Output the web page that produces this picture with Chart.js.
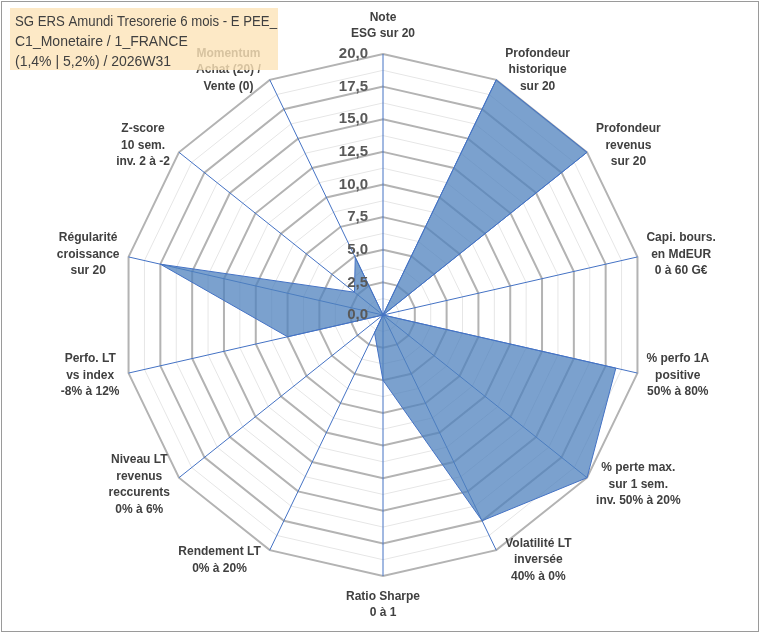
<!DOCTYPE html>
<html>
<head>
<meta charset="utf-8">
<script src="https://cdn.jsdelivr.net/npm/chart.js@4.4.1/dist/chart.umd.min.js"></script>
<style>
    html, body { margin: 0; padding: 0; background: #fff; }
    #wrap { width: 760px; height: 633px; position: relative; }
</style>
</head>
<body>
<div id="wrap"><canvas id="radarChart"></canvas></div>
<script>
// Axis labels (one array per label = one line per entry)
const axisLabels = [
    ['Note', 'ESG sur 20'],
    ['Profondeur', 'historique', 'sur 20'],
    ['Profondeur', 'revenus', 'sur 20'],
    ['Capi. bours.', 'en MdEUR', '0 à 60 G€'],
    ['% perfo 1A', 'positive', '50% à 80%'],
    ['% perte max.', 'sur 1 sem.', 'inv. 50% à 20%'],
    ['Volatilité LT', 'inversée', '40% à 0%'],
    ['Ratio Sharpe', '0 à 1'],
    ['Rendement LT', '0% à 20%'],
    ['Niveau LT', 'revenus', 'reccurents', '0% à 6%'],
    ['Perfo. LT', 'vs index', '-8% à 12%'],
    ['Régularité', 'croissance', 'sur 20'],
    ['Z-score', '10 sem.', 'inv. 2 à -2'],
    ['Momentum', 'Achat (20) /', 'Vente (0)']
];

// Scores (0 to 20)
const scores = [0, 20, 20, 0, 18.3, 20, 17.5, 5, 1.5, 0, 7.5, 17.5, 2.8, 4.9];

// Ring labels shown next to the vertical axis
const tickValues = [0, 2.5, 5, 7.5, 10, 12.5, 15, 17.5, 20];

// Title box text
const titleLines = [
    'SG ERS Amundi Tresorerie 6 mois - E PEE_',
    'C1_Monetaire / 1_FRANCE',
    '(1,4% | 5,2%) / 2026W31'
];

const FONT = '"Liberation Sans", Arial, sans-serif';
const LABEL_LINE = 16.5;

function isMajor(v) {
    return Math.abs(v / 2.5 - Math.round(v / 2.5)) < 1e-6;
}

// Axis labels, centred text blocks just outside each outer vertex
const axisLabelPlugin = {
    id: 'axisLabels',
    afterDatasetsDraw(chart) {
        const scale = chart.scales.r;
        const ctx = chart.ctx;
        ctx.save();
        ctx.font = 'bold 12px ' + FONT;
        ctx.fillStyle = '#404040';
        ctx.textAlign = 'center';
        ctx.textBaseline = 'middle';
        axisLabels.forEach((lines, i) => {
            const p = scale.getPointPosition(i, scale.drawingArea);
            const ux = (p.x - scale.xCenter) / scale.drawingArea;
            const uy = (p.y - scale.yCenter) / scale.drawingArea;
            const w = Math.max(...lines.map(l => ctx.measureText(l).width));
            const h = lines.length * LABEL_LINE;
            let cx = p.x, cy = p.y;
            if (Math.abs(ux) < 0.05) {
                cy += Math.sign(uy) * (h / 2 + 12);
            } else {
                cx += Math.sign(ux) * (w / 2 + 9);
                cy += uy * 11;
            }
            lines.forEach((line, j) => {
                ctx.fillText(line, cx, cy + (j - (lines.length - 1) / 2) * LABEL_LINE);
            });
        });
        ctx.restore();
    }
};

// Ring values drawn left of the top axis, over the fill
const tickLabelPlugin = {
    id: 'tickLabels',
    afterDatasetsDraw(chart) {
        const scale = chart.scales.r;
        const ctx = chart.ctx;
        ctx.save();
        ctx.font = 'bold 15px ' + FONT;
        ctx.fillStyle = '#595959';
        ctx.textAlign = 'right';
        ctx.textBaseline = 'middle';
        tickValues.forEach(v => {
            const y = scale.yCenter - scale.getDistanceFromCenterForValue(v);
            ctx.fillText(v.toFixed(1).replace('.', ','), scale.xCenter - 15, y);
        });
        ctx.restore();
    }
};

// Title box + outer frame
const titleBoxPlugin = {
    id: 'titleBox',
    afterDraw(chart) {
        const ctx = chart.ctx;
        ctx.save();
        ctx.fillStyle = 'rgba(252, 228, 184, 0.8)';
        ctx.fillRect(10, 8, 268, 62);
        ctx.font = '14px ' + FONT;
        ctx.fillStyle = '#404040';
        ctx.textAlign = 'left';
        ctx.textBaseline = 'middle';
        titleLines.forEach((line, i) => {
            ctx.fillText(line, 15, 22 + i * 20, 262);
        });
        ctx.strokeStyle = '#9a9a9a';
        ctx.lineWidth = 1;
        ctx.strokeRect(1.5, 1.5, chart.width - 3, chart.height - 3);
        ctx.restore();
    }
};

const ctx = document.getElementById('radarChart').getContext('2d');
new Chart(ctx, {
    type: 'radar',
    data: {
        labels: axisLabels,
        datasets: [{
            data: scores,
            backgroundColor: 'rgba(79, 129, 189, 0.75)',
            borderColor: '#4472C4',
            borderWidth: 1,
            pointRadius: 0,
            fill: true
        }]
    },
    options: {
        responsive: true,
        maintainAspectRatio: false,
        animation: false,
        layout: {
            padding: { top: 54, bottom: 57, left: 100, right: 94 }
        },
        plugins: {
            legend: { display: false },
            tooltip: { enabled: false }
        },
        scales: {
            r: {
                min: 0,
                max: 20,
                ticks: {
                    stepSize: 1.25,
                    display: false
                },
                grid: {
                    color: c => isMajor(c.tick.value) ? '#b3b3b3' : '#e6e6e6',
                    lineWidth: c => isMajor(c.tick.value) ? 2 : 1
                },
                angleLines: {
                    color: '#4472C4',
                    lineWidth: 1
                },
                pointLabels: { display: false }
            }
        }
    },
    plugins: [axisLabelPlugin, tickLabelPlugin, titleBoxPlugin]
});
</script>
</body>
</html>
